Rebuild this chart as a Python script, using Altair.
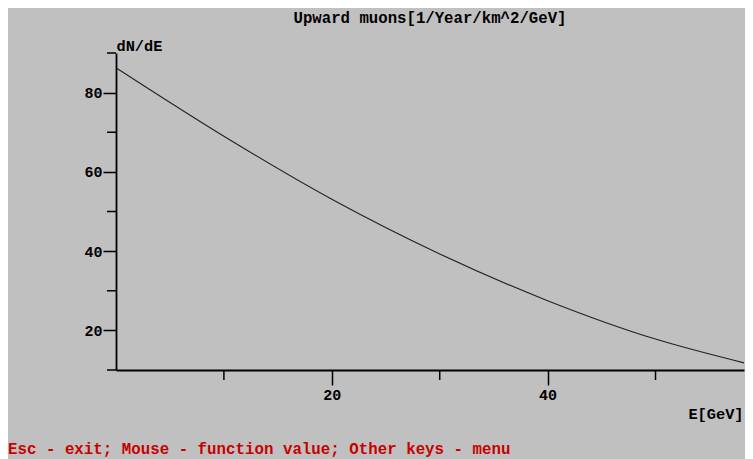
import altair as alt
import pandas as pd

# Curve readings
energy = [0.1, 10.0, 20.0, 30.0, 40.0, 50.0, 58.2]
dnde = [86.1, 69.0, 53.1, 39.3, 27.5, 17.8, 11.8]

x_major = [20, 40]
x_minor = [10, 30, 50]
y_major = [20, 40, 60, 80]
y_minor = [10, 30, 50, 70, 90]

title_text = "Upward muons[1/Year/km^2/GeV]"
y_title = "dN/dE"
x_title = "E[GeV]"
footer_text = "Esc - exit; Mouse - function value; Other keys - menu"

W, H = 628, 317
XDOM = [0, 58.2]
YDOM = [10, 90]
FONT = "Liberation Mono"

curve_df = pd.DataFrame({"E": energy, "N": dnde})
xs = alt.Scale(domain=XDOM, nice=False, zero=False)
ys = alt.Scale(domain=YDOM, nice=False, zero=False)

curve = alt.Chart(curve_df).mark_line(
    color="#222222", strokeWidth=1.1, interpolate="monotone"
).encode(
    x=alt.X("E:Q", scale=xs, axis=alt.Axis(
        values=x_major, title=x_title, tickSize=15, tickWidth=1.5, tickColor="black",
        domainColor="black", domainWidth=1.8, labelPadding=2,
        labelFont=FONT, labelFontWeight="bold", labelFontSize=15, labelColor="black",
        labelBaseline="top", grid=False,
        titleFont=FONT, titleFontWeight="bold", titleFontSize=15.3, titleColor="black",
        titleAnchor="end", titleAlign="right", titleX=627, titleY=43,
        titleBaseline="middle")),
    y=alt.Y("N:Q", scale=ys, axis=alt.Axis(
        values=y_major, title=y_title, tickSize=13, tickWidth=1.5, tickColor="black",
        domainColor="black", domainWidth=1.8, labelPadding=1,
        labelFont=FONT, labelFontWeight="bold", labelFontSize=15, labelColor="black",
        grid=False,
        titleFont=FONT, titleFontWeight="bold", titleFontSize=15.3, titleColor="black",
        titleAngle=0, titleAlign="left", titleBaseline="middle", titleX=0, titleY=-8)),
)

yminor = alt.Chart(pd.DataFrame({"v": y_minor})).mark_rule(
    color="black", strokeWidth=1.5
).encode(
    y=alt.Y("v:Q", scale=ys),
    x=alt.value(-9),
    x2=alt.value(0),
)

xminor = alt.Chart(pd.DataFrame({"v": x_minor})).mark_rule(
    color="black", strokeWidth=1.5
).encode(
    x=alt.X("v:Q", scale=xs),
    y=alt.value(H),
    y2=alt.value(H + 10),
)

title = alt.Chart(pd.DataFrame({"t": [title_text]})).mark_text(
    font=FONT, fontWeight="bold", fontSize=15.7, color="black",
    align="center", baseline="middle"
).encode(text="t:N", x=alt.value(W / 2), y=alt.value(-35))

footer = alt.Chart(pd.DataFrame({"t": [footer_text]})).mark_text(
    font=FONT, fontWeight="bold", fontSize=15.8, color="#c80000",
    align="left", baseline="middle"
).encode(text="t:N", x=alt.value(-108), y=alt.value(396))

chart = alt.layer(curve, yminor, xminor, title, footer).properties(
    width=W, height=H,
    background="#c0c0c0",
    autosize=alt.AutoSizeParams(type="none"),
    padding={"left": 108, "top": 45, "right": 1, "bottom": 89},
).configure_view(stroke=None)

chart.save("out.html", embed_options={"renderer": "svg", "actions": False})
